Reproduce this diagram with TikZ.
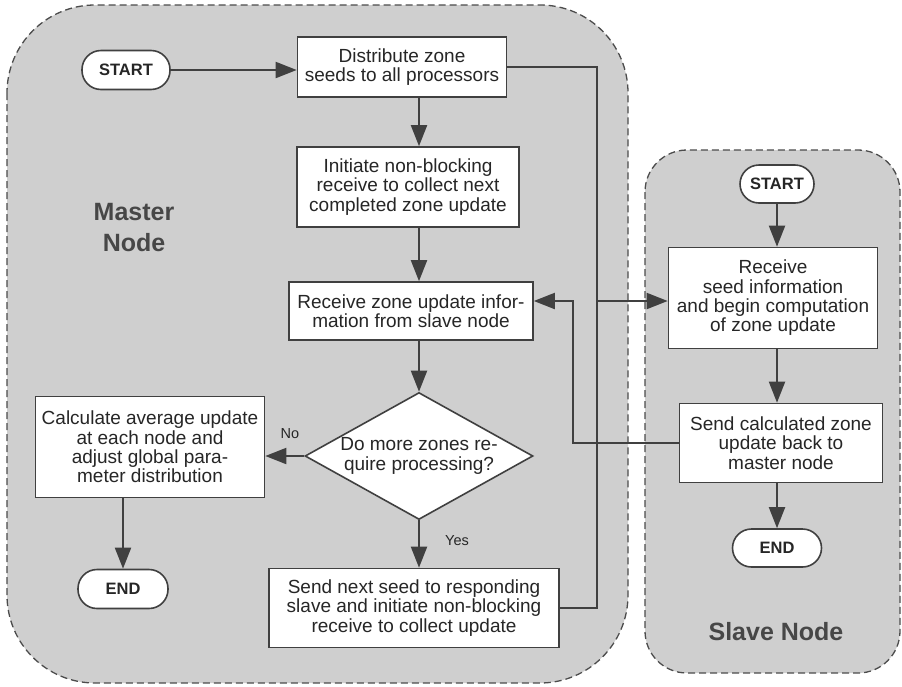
\documentclass[tikz,border=0pt]{standalone}
\usepackage{fontspec}
\setmainfont{Liberation Sans}
\usetikzlibrary{arrows.meta,shapes.geometric}
\begin{document}
\begin{tikzpicture}[x=1pt,y=-1pt,
  region/.style={draw=black!70, fill=black!19, dash pattern=on 7pt off 4pt, line width=1.3pt},
  box/.style={draw=black!75, fill=white, line width=1.6pt, align=center, inner sep=0pt,
    font=\fontsize{19}{19.3}\selectfont, text=black!85},
  term/.style={box, rounded corners=19pt, font=\bfseries\fontsize{16.5}{18}\selectfont},
  dia/.style={box, diamond, aspect=1.8},
  lbl/.style={font=\bfseries\fontsize{25}{31}\selectfont, text=black!72, align=center},
  small/.style={font=\fontsize{14.5}{16}\selectfont, text=black!85},
  wire/.style={draw=black!75, line width=1.9pt},
  arr/.style={wire, -{Triangle[length=21pt,width=16pt]}}
]
\useasboundingbox (0,0) rectangle (902,686);
% regions
\path[region, rounded corners=88pt] (7,5) rectangle (628,683);
\path[region, rounded corners=42pt] (645,150) rectangle (900,673);
% labels
\node[lbl] (mlabel) at (134,228) {Master\\Node};
\node[lbl] (slabel) at (776,632) {Slave Node};
% master nodes
\node[term, minimum width=88pt, minimum height=39pt] (mstart) at (126,70) {START};
\node[box, minimum width=209pt, minimum height=60pt] (dist) at (402,67) {Distribute zone\\seeds to all processors};
\node[box, minimum width=222pt, minimum height=80pt] (init) at (408,187) {Initiate non-blocking\\receive to collect next\\completed zone update};
\node[box, minimum width=244pt, minimum height=58pt] (recv) at (411,311) {Receive zone update infor-\\mation from slave node};
\node[dia, minimum width=228pt, minimum height=127pt] (dec) at (419,456) {Do more zones re-\\quire processing?};
\node[box, minimum width=229pt, minimum height=101pt] (calc) at (150,447) {Calculate average update\\at each node and\\adjust global para-\\meter distribution};
\node[term, minimum width=90pt, minimum height=39pt] (mend) at (123,589) {END};
\node[box, minimum width=290pt, minimum height=79pt] (send) at (414,608) {Send next seed to responding\\slave and initiate non-blocking\\receive to collect update};
\node[small] (no) at (290,434) {No};
\node[small] (yes) at (457,541) {Yes};
% slave nodes
\node[term, minimum width=74pt, minimum height=38pt] (sstart) at (777,184) {START};
\node[box, minimum width=209pt, minimum height=101pt] (sseed) at (773,298) {Receive\\seed information\\and begin computation\\of zone update};
\node[box, minimum width=203pt, minimum height=79pt] (scalc) at (781,443) {Send calculated zone\\update back to\\master node};
\node[term, minimum width=89pt, minimum height=38pt] (send2) at (777,548) {END};
% helper coordinates
\coordinate (bus) at (597,301);
\coordinate (ret) at (573,301);
% master connectors
\draw[arr] (mstart.east) -- (mstart.east -| dist.west);
\draw[arr] (dist.south -| dec.north) -- (init.north -| dec.north);
\draw[arr] (init.south -| dec.north) -- (recv.north -| dec.north);
\draw[arr] (recv.south -| dec.north) -- (dec.north);
\draw[arr] (dec.west) -- (dec.west -| calc.east);
\draw[arr] (calc.south -| mend.north) -- (mend.north);
\draw[arr] (dec.south) -- (dec.south |- send.north);
% cross connectors
\draw[wire] (dist.east) -- (dist.east -| bus) -- (bus);
\draw[wire] (send.east) -- (send.east -| bus) -- (bus);
\draw[arr] (bus) -- (bus -| sseed.west);
\draw[arr] (scalc.west) -- (scalc.west -| ret) -- (ret) -- (ret -| recv.east);
% slave connectors
\draw[arr] (sstart.south) -- (sstart.south |- sseed.north);
\draw[arr] (sseed.south -| sstart) -- (scalc.north -| sstart);
\draw[arr] (scalc.south -| sstart) -- (send2.north);
\end{tikzpicture}
\end{document}
